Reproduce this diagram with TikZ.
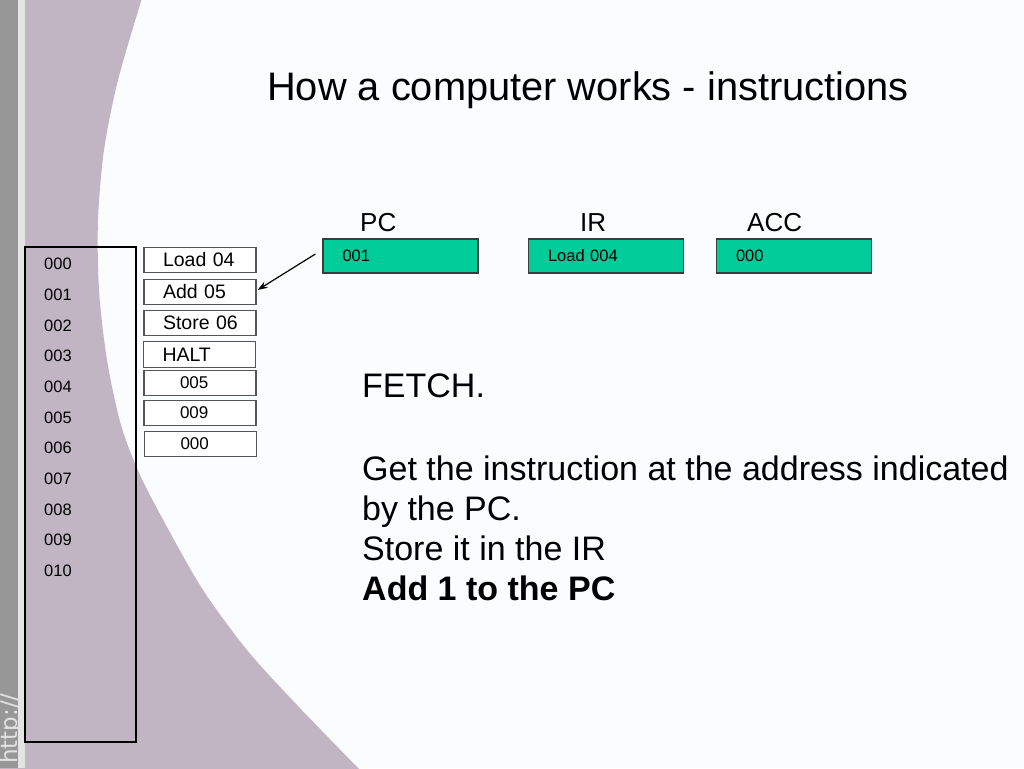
\documentclass[tikz,border=0pt]{standalone}
\usepackage{fontspec}
\setmainfont{Liberation Sans}
\newfontfamily\httpfont{DejaVu Sans}
\usetikzlibrary{arrows.meta}
\definecolor{bgwhite}{HTML}{FBFCFE}
\definecolor{mauve}{HTML}{C1B5C3}
\definecolor{stripgray}{HTML}{979797}
\definecolor{striplight}{HTML}{E4E4E4}
\definecolor{httpgray}{HTML}{E2E2E2}
\definecolor{regfill}{HTML}{00CC99}
\definecolor{regline}{HTML}{3C3C3C}
\definecolor{boxline}{HTML}{555555}
\tikzset{
  addr/.style={anchor=west, inner sep=0pt, font=\fontsize{16.5}{18}\selectfont},
  instbox/.style={draw=boxline, line width=1.2pt, fill=white, minimum height=25.5pt,
    inner sep=0pt, text width=112pt, align=left,
    execute at begin node={\hspace*{19pt}},
    font=\fontsize{19.5}{22}\selectfont},
  databox/.style={draw=boxline, line width=1.2pt, fill=white, minimum height=25.5pt,
    inner sep=0pt, text width=112pt, align=left,
    execute at begin node={\hspace*{36pt}},
    font=\fontsize{17}{19}\selectfont},
  regbox/.style={draw=regline, line width=1.2pt, fill=regfill, minimum height=34pt,
    inner sep=0pt, text width=155pt, align=left,
    execute at begin node={\hspace*{19.5pt}},
    font=\fontsize{16.5}{18}\selectfont},
  reglabel/.style={anchor=base west, inner sep=0pt, font=\fontsize{26}{30}\selectfont},
  bodytext/.style={anchor=base west, inner sep=0pt, font=\fontsize{34}{40}\selectfont},
  pointer/.style={line width=1.2pt, -{Stealth[length=10pt,width=7pt]}}
}
\begin{document}
\begin{tikzpicture}[x=1pt,y=-1pt]
\useasboundingbox (0,0) rectangle (1024,768);
% background
\fill[bgwhite] (0,0) rectangle (1024,768);
\fill[mauve] plot[smooth] coordinates {(142,-2) (118,80) (104,150) (98,220) (99,290) (107,360) (121,425) (140,475) (167,527) (203,590) (247,650) (297,705) (360,770)} -- (0,770) -- (0,-2) -- cycle;
\fill[stripgray] (0,0) rectangle (18,768);
\fill[striplight] (18,0) rectangle (25,768);
\node[rotate=90, anchor=base west, inner sep=0pt, text=httpgray,
  font=\httpfont\fontsize{23}{26}\selectfont] (http) at (17,764) {http://};

% title
\node[anchor=base west, inner sep=0pt, font=\fontsize{39.8}{46}\selectfont] (title) at (267,100) {How a computer works - instructions};

% memory addresses
\node[draw=black, line width=1.1pt, minimum width=111pt, minimum height=495pt, inner sep=0pt] (mem) at (80.5,494.5) {};
\foreach \i/\t in {0/000,1/001,2/002,3/003,4/004,5/005,6/006,7/007,8/008,9/009,10/010}
  \node[addr] (m\i) at (44,{264+30.7*\i}) {\t};

% memory contents
\node[instbox] (load) at (200,260) {Load 04};
\node[instbox] (add) at (200,292) {Add 05};
\node[instbox] (store) at (200,323) {Store 06};
\node[instbox] (halt) at (199.5,354.5) {HALT};
\node[databox] (d5) at (200,383) {005};
\node[databox] (d9) at (200,413) {009};
\node[databox] (d0) at (200.5,444) {000};

% registers
\node[reglabel] (pclab) at (360,231) {PC};
\node[reglabel] (irlab) at (580,231) {IR};
\node[reglabel] (acclab) at (747,231) {ACC};
\node[regbox] (pc) at (400.5,256) {001};
\node[regbox] (ir) at (606,256) {Load 004};
\node[regbox] (acc) at (794,256) {000};

\draw[pointer] ([xshift=-7pt,yshift=2pt]pc.west) -- ([xshift=1pt,yshift=2pt]add.east);

% explanation
\node[bodytext] (fetch) at (362,397) {FETCH.};
\node[bodytext] (l1) at (362,480) {Get the instruction at the address indicated};
\node[bodytext] (l2) at (362,520) {by the PC.};
\node[bodytext] (l3) at (362,560) {Store it in the IR};
\node[bodytext, font=\fontsize{34}{40}\selectfont\bfseries] (l4) at (362,600) {Add 1 to the PC};
\end{tikzpicture}
\end{document}
